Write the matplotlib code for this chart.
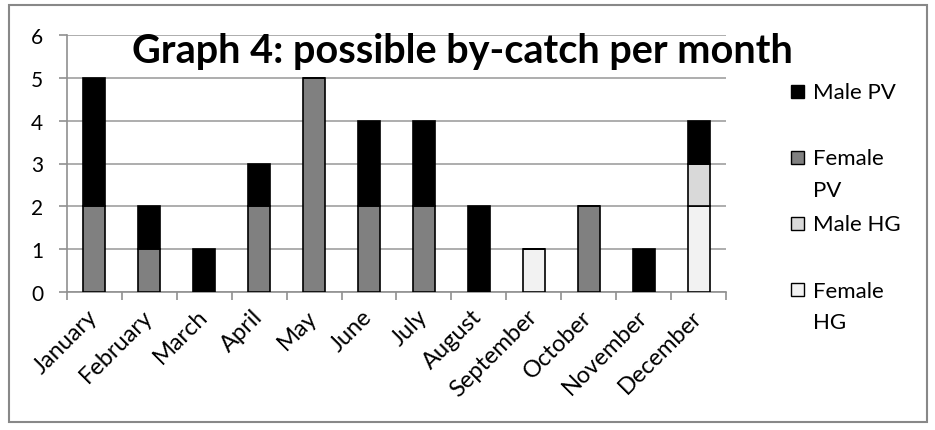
import numpy as np
import matplotlib.pyplot as plt

# possible by-catch per month, stacked bottom -> top
months = ['January', 'February', 'March', 'April', 'May', 'June', 'July',
          'August', 'September', 'October', 'November', 'December']
female_hg = [0, 0, 0, 0, 0, 0, 0, 0, 1, 0, 0, 2]
male_hg = [0, 0, 0, 0, 0, 0, 0, 0, 0, 0, 0, 1]
female_pv = [2, 1, 0, 2, 5, 2, 2, 0, 0, 2, 0, 0]
male_pv = [3, 1, 1, 1, 0, 2, 2, 2, 0, 0, 1, 1]

plt.rcParams['font.family'] = ['Lato', 'DejaVu Sans']

W, H = 935, 431
fig = plt.figure(figsize=(W / 100, H / 100), dpi=100)
ax = fig.add_axes([67 / W, 1 - 293 / H, (726 - 67) / W, (293 - 36) / H])

x = np.arange(len(months))
w = 0.4
series = [(female_hg, '#f2f2f2', 'Female\nHG'),
          (male_hg, '#d9d9d9', 'Male HG'),
          (female_pv, '#808080', 'Female\nPV'),
          (male_pv, '#000000', 'Male PV')]
bottom = np.zeros(len(months))
for vals, col, lab in series:
    vals = np.array(vals)
    ax.bar(x, vals, w, bottom=bottom, color=col, edgecolor='black',
           linewidth=1.2, label=lab, zorder=3)
    bottom += vals

ax.set_xlim(-0.5, len(months) - 0.5)
ax.set_ylim(0, 6)
ax.set_yticks(range(7))
ax.yaxis.grid(True, color='#a0a0a0', linewidth=1.2, zorder=0)
ax.set_xticks(x)
ax.set_xticklabels(months, rotation=45, ha='right', va='center',
                   rotation_mode='anchor', fontsize=17)
ax.set_xticks(np.arange(-0.5, len(months)), minor=True)
ax.tick_params(axis='x', which='major', length=0, pad=15)
ax.tick_params(axis='x', which='minor', length=5.5, color='#909090', width=1.2)
ax.tick_params(axis='y', length=6, color='#909090', width=1.2, labelsize=15, pad=11)
for s in ['top', 'right']:
    ax.spines[s].set_visible(False)
for s in ['left', 'bottom']:
    ax.spines[s].set_color('#909090')
    ax.spines[s].set_linewidth(1.2)

fig.text(462 / W, 1 - 52 / H, 'Graph 4: possible by-catch per month', ha='center',
         va='center', fontsize=28.5, fontweight='bold')

# legend, Excel style: entries in equal slots, long labels wrap onto a second line
for i, (vals, col, lab) in enumerate(series[::-1]):
    yc = 92 + 66 * i
    fig.patches.append(plt.Rectangle((791 / W, 1 - (yc + 7) / H), 13 / W, 13 / H,
                                     transform=fig.transFigure, facecolor=col,
                                     edgecolor='black', linewidth=1.0))
    for k, line in enumerate(lab.split('\n')):
        fig.text(813 / W, 1 - (yc + 7.5 + 32 * k) / H, line, ha='left',
                 va='baseline', fontsize=16)

fig.patches.append(plt.Rectangle((8.5 / W, 8 / H), 918 / W, 417 / H,
                                 transform=fig.transFigure, fill=False,
                                 edgecolor='#888888', linewidth=1.5))

fig.savefig('out.png', dpi=100)
